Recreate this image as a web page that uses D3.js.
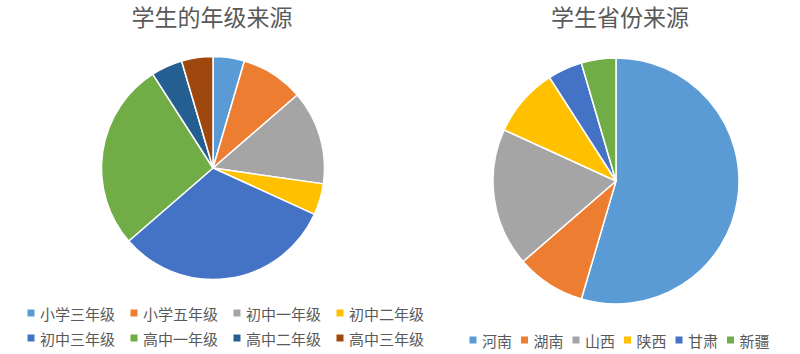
<!DOCTYPE html>
<html><head><meta charset="utf-8">
<script src="https://cdn.jsdelivr.net/npm/d3@7"></script>
<style>body{margin:0;background:#fff}svg{display:block}</style>
</head><body>
<svg id="c" width="800" height="354"></svg>
<script>
const gradeCategories = ["小学三年级","小学五年级","初中一年级","初中二年级","初中三年级","高中一年级","高中二年级","高中三年级"];
const gradeValues = [1,2,3,1,7,6,1,1];
const gradeColors = ["#5B9BD5","#ED7D31","#A5A5A5","#FFC000","#4472C4","#70AD47","#255E91","#9E480E"];
const provinceCategories = ["河南","湖南","山西","陕西","甘肃","新疆"];
const provinceValues = [12,2,4,2,1,1];
const provinceColors = ["#5B9BD5","#ED7D31","#A5A5A5","#FFC000","#4472C4","#70AD47"];
const titles = ["学生的年级来源","学生省份来源"];

const svg = d3.select("#c");
const font = "'Microsoft YaHei','Noto Sans CJK SC',sans-serif";
const textColor = "#595959";

function drawPie(cx, cy, r, cats, vals, colors) {
  const data = cats.map((c,i)=>({name:c, value:vals[i], color:colors[i]}));
  const pie = d3.pie().sort(null).value(d=>d.value);
  const arc = d3.arc().innerRadius(0).outerRadius(r);
  const g = svg.append("g").attr("transform", `translate(${cx},${cy})`);
  g.selectAll("path").data(pie(data)).join("path")
    .attr("d", arc).attr("fill", d=>d.data.color)
    .attr("stroke","#fff").attr("stroke-width",1.5).attr("stroke-linejoin","round");
}

function drawTitle(x, y, t) {
  svg.append("text").attr("x",x).attr("y",y).attr("text-anchor","middle")
    .attr("dominant-baseline","central")
    .style("font-family",font).style("font-size","23px").attr("fill",textColor).text(t);
}

function drawLegend(items, colors, x0, y0, colW, rowH, perRow) {
  const g = svg.append("g");
  items.forEach((t,i)=>{
    const col = i % perRow, row = Math.floor(i / perRow);
    const x = x0 + col*colW, y = y0 + row*rowH;
    g.append("rect").attr("x",x-3.5).attr("y",y-3.5).attr("width",7).attr("height",7).attr("fill",colors[i]);
    g.append("text").attr("x",x+9).attr("y",y).attr("dominant-baseline","central")
      .style("font-family",font).style("font-size","15px").attr("fill",textColor).text(t);
  });
}

drawTitle(212, 16, titles[0]);
drawTitle(620, 16, titles[1]);
drawPie(213, 168, 111.5, gradeCategories, gradeValues, gradeColors);
drawPie(616, 181, 123, provinceCategories, provinceValues, provinceColors);
drawLegend(gradeCategories, gradeColors, 31, 313, 103, 25, 4);
drawLegend(provinceCategories, provinceColors, 473, 340, 51.5, 25, 6);
</script>
</body></html>
